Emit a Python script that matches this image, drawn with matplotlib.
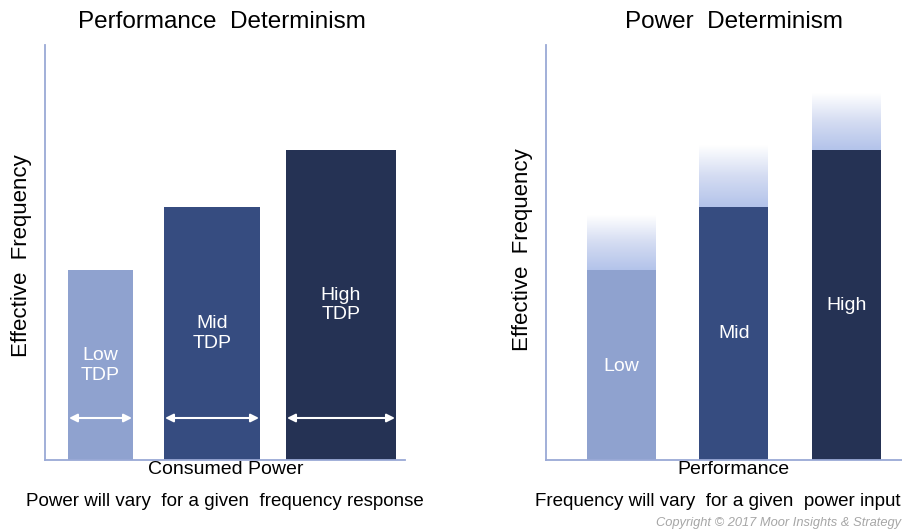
import numpy as np
import matplotlib
matplotlib.use('Agg')
import matplotlib.pyplot as plt
from matplotlib.colors import LinearSegmentedColormap

plt.rcParams['font.family'] = ['Liberation Sans', 'DejaVu Sans']

# left panel: bar width = consumed power, height = effective frequency
left_labels = ['Low\nTDP', 'Mid\nTDP', 'High\nTDP']
left_starts = [0.23, 1.19, 2.41]
left_widths = [0.65, 0.96, 1.10]
left_heights = [1.90, 2.53, 3.10]

# right panel: same power, frequency varies (faded range on top)
right_labels = ['Low', 'Mid', 'High']
right_centers = [0.755, 1.88, 3.005]
right_heights = [1.90, 2.53, 3.10]
right_max = [2.45, 3.15, 3.67]

colors = ['#8fa2cf', '#364c80', '#253254']
axis_color = '#9aa9d6'

W, H = 903, 531
fig = plt.figure(figsize=(W / 100, H / 100), dpi=100)

def add_ax(x0, x1, y_top, y_bot):
    return fig.add_axes([x0 / W, 1 - y_bot / H, (x1 - x0) / W, (y_bot - y_top) / H])

ax1 = add_ax(45, 405, 45, 460)
ax2 = add_ax(546, 903, 45, 460)

for ax in (ax1, ax2):
    for s in ('top', 'right'):
        ax.spines[s].set_visible(False)
    for s in ('left', 'bottom'):
        ax.spines[s].set_color(axis_color)
        ax.spines[s].set_linewidth(1.3)
    ax.set_xticks([])
    ax.set_yticks([])

# left bars
ax1.bar(left_starts, left_heights, width=left_widths, align='edge', color=colors, zorder=2)
for x0, w in zip(left_starts, left_widths):
    ax1.annotate('', xy=(x0 + 0.01, 0.42), xytext=(x0 + w - 0.01, 0.42),
                 arrowprops=dict(arrowstyle='<|-|>', color='white', lw=1.5,
                                 mutation_scale=12, shrinkA=0, shrinkB=0), zorder=3)
left_label_y = [0.945, 1.265, 1.55]
for x0, w, y, lab in zip(left_starts, left_widths, left_label_y, left_labels):
    ax1.text(x0 + w / 2, y, lab, color='white', ha='center', va='center',
             fontsize=14, linespacing=1.2)
ax1.set_xlim(0, 3.6)
ax1.set_ylim(0, 4.15)

# right bars with faded headroom
fade = LinearSegmentedColormap.from_list('fade', ['#b3c3ea', '#d4dcf2', '#ffffff'])
grad = np.linspace(0, 1, 256).reshape(-1, 1)
bw = 0.69
for c, h, m in zip(right_centers, right_heights, right_max):
    ax2.imshow(grad, extent=(c - bw / 2, c + bw / 2, h, m), origin='lower',
               cmap=fade, aspect='auto', zorder=1)
ax2.bar(right_centers, right_heights, width=bw, color=colors, zorder=2)
right_label_y = [0.94, 1.27, 1.55]
for c, y, lab in zip(right_centers, right_label_y, right_labels):
    ax2.text(c, y, lab, color='white', ha='center', va='center', fontsize=14)
ax2.set_aspect('auto')
ax2.set_xlim(0, 3.57)
ax2.set_ylim(0, 4.15)

# titles and labels
fig.text(222 / W, 1 - 22 / H, 'Performance  Determinism', ha='center', va='center', fontsize=17.5)
fig.text(734 / W, 1 - 22 / H, 'Power  Determinism', ha='center', va='center', fontsize=17.5)
fig.text(22 / W, 1 - 256 / H, 'Effective  Frequency', ha='center', va='center',
         rotation=90, fontsize=16)
fig.text(523 / W, 1 - 250 / H, 'Effective  Frequency', ha='center', va='center',
         rotation=90, fontsize=16)
fig.text(226 / W, 1 - 470 / H, 'Consumed Power', ha='center', va='center', fontsize=14)
fig.text(733 / W, 1 - 470 / H, 'Performance', ha='center', va='center', fontsize=14)
fig.text(225 / W, 1 - 501 / H, 'Power will vary  for a given  frequency response',
         ha='center', va='center', fontsize=13.5)
fig.text(718 / W, 1 - 501 / H, 'Frequency will vary  for a given  power input',
         ha='center', va='center', fontsize=13.5)
fig.text(901 / W, 1 - 523 / H, 'Copyright \u00a9 2017 Moor Insights & Strategy',
         ha='right', va='center', fontsize=9.3, style='italic', color='#a6a6a6')

fig.savefig('out.png', dpi=100)
